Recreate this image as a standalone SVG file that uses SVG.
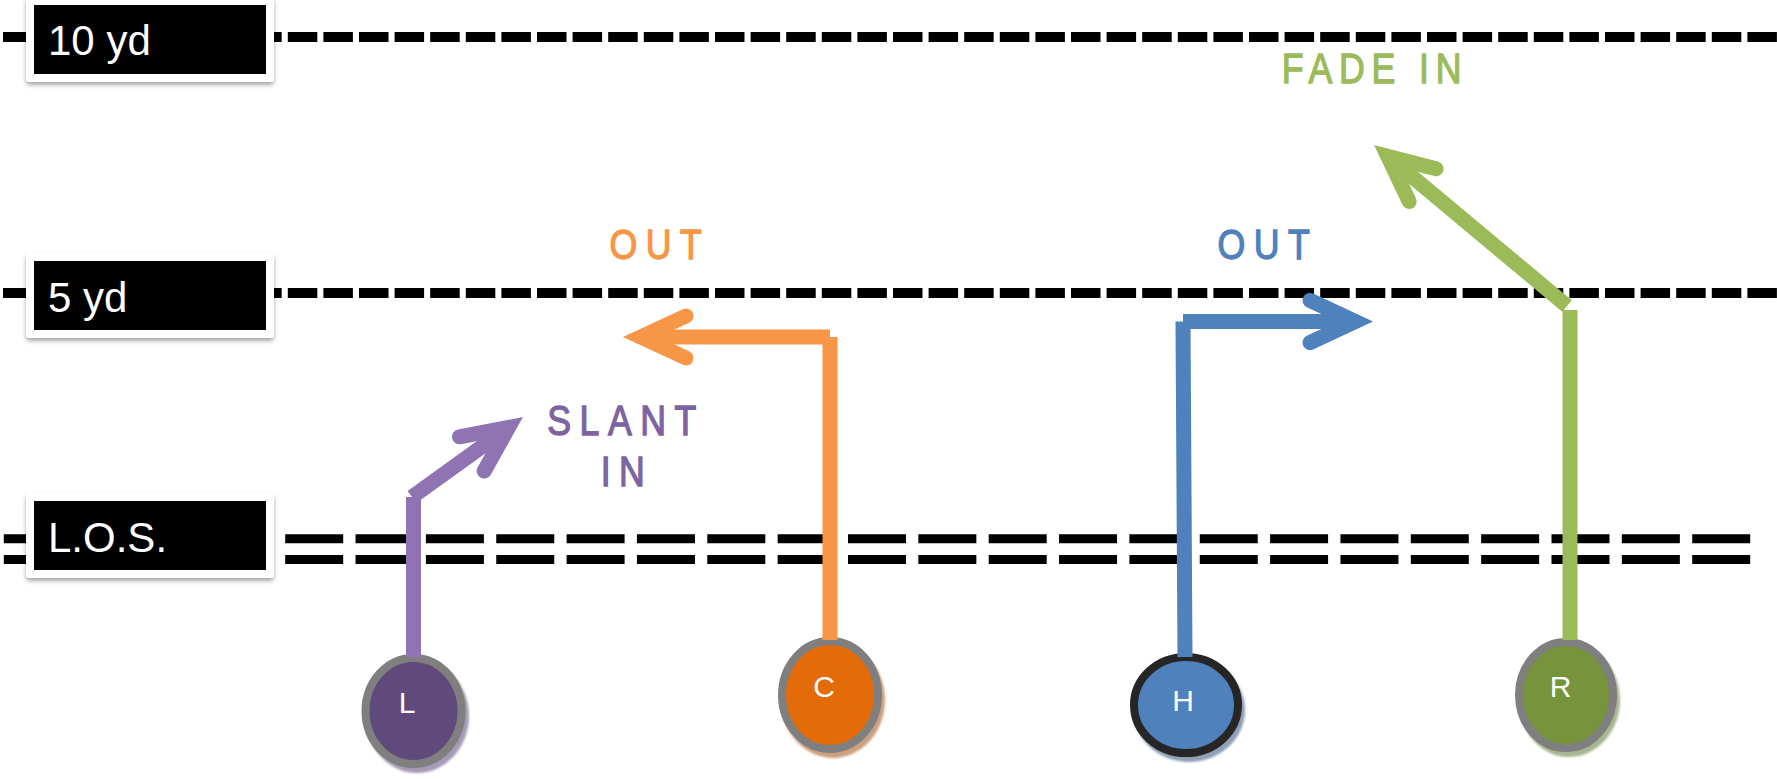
<svg xmlns="http://www.w3.org/2000/svg" width="1777" height="779" viewBox="0 0 1777 779">
<style>
  .yd { stroke:#000; stroke-width:10; stroke-dasharray:29.5 6.1; fill:none; }
  .los { stroke:#000; stroke-width:9; stroke-dasharray:58 12.35; fill:none; }
  .boxw { fill:#fff; filter:url(#boxshadow); }
  .boxb { fill:#000; }
  .boxt { font-family:"Liberation Sans", Arial, sans-serif; font-size:42px; fill:#fff; }
  .lbl { font-family:"Liberation Sans", Arial, sans-serif; font-size:42px; text-anchor:middle; letter-spacing:10px; stroke-width:1.3px; }
  .route { fill:none; stroke-width:15; stroke-linecap:butt; }
  .head { fill:none; stroke-width:15; stroke-linecap:round; stroke-linejoin:miter; stroke-miterlimit:4; }
  .ring { stroke:#7F7F7F; stroke-width:8; }
  .nshadow { filter:url(#soft); }
  .ntext { font-family:"Liberation Sans", Arial, sans-serif; font-size:30px; fill:#fff; text-anchor:middle; }
</style>
<defs>
  <filter id="boxshadow" x="-10%" y="-20%" width="120%" height="150%">
    <feDropShadow dx="0" dy="3" stdDeviation="2" flood-color="#000" flood-opacity="0.35"/>
  </filter>
  <filter id="soft" x="-20%" y="-20%" width="140%" height="140%">
    <feGaussianBlur stdDeviation="1"/>
  </filter>
</defs>
<rect width="1777" height="779" fill="#fff"/>

<g id="yard-lines">
  <line class="yd" x1="3" y1="37" x2="1777" y2="37"/>
  <line class="yd" x1="3" y1="293" x2="1777" y2="293"/>
  <line class="los" x1="3.8" y1="538.8" x2="1751" y2="538.8"/>
  <line class="los" x1="3.8" y1="559.5" x2="1751" y2="559.5"/>
</g>

<g id="label-10yd">
  <rect class="boxw" x="26" y="-4" width="248" height="86" rx="4"/>
  <rect class="boxb" x="34" y="5" width="232" height="69"/>
  <text class="boxt" x="48" y="55">10 yd</text>
</g>
<g id="label-5yd">
  <rect class="boxw" x="26" y="253" width="248" height="85" rx="4"/>
  <rect class="boxb" x="34" y="261" width="232" height="69"/>
  <text class="boxt" x="48" y="312">5 yd</text>
</g>
<g id="label-los">
  <rect class="boxw" x="26" y="493" width="248" height="85" rx="4"/>
  <rect class="boxb" x="34" y="501" width="232" height="69"/>
  <text class="boxt" x="48" y="552">L.O.S.</text>
</g>

<g id="node-L">
  <ellipse class="nshadow" cx="417" cy="716" rx="52" ry="57" fill="#A59BB5"/>
  <ellipse class="ring" cx="413.5" cy="711" rx="48" ry="53" fill="#604A7B"/>
  <text class="ntext" x="407" y="713">L</text>
</g>
<g id="node-C">
  <ellipse class="nshadow" cx="833" cy="700" rx="52" ry="58" fill="#CDA07D"/>
  <ellipse class="ring" cx="830" cy="695" rx="48" ry="54" fill="#E36C09"/>
  <text class="ntext" x="824" y="697">C</text>
</g>
<g id="node-H">
  <ellipse class="nshadow" cx="1189" cy="710" rx="56" ry="52" fill="#8E9FB6"/>
  <ellipse cx="1186" cy="705" rx="52" ry="48" fill="#4F81BD" stroke="#262626" stroke-width="8"/>
  <text class="ntext" x="1183" y="711">H</text>
</g>
<g id="node-R">
  <ellipse class="nshadow" cx="1569" cy="700" rx="51" ry="57" fill="#A8B690"/>
  <ellipse class="ring" cx="1566" cy="695" rx="47" ry="53" fill="#77933C"/>
  <text class="ntext" x="1560.5" y="697">R</text>
</g>

<g id="connectors">
  <g id="route-L" stroke="#8F73B3">
    <line class="route" x1="413.5" y1="657" x2="413.5" y2="497"/>
    <line class="route" x1="412" y1="497" x2="508.6" y2="427.4"/>
    <polyline class="head" points="459.5,436.8 508.6,427.4 484.2,471"/>
  </g>
  <g id="route-C" stroke="#F79646">
    <line class="route" x1="830" y1="640" x2="830" y2="337"/>
    <line class="route" x1="830" y1="337" x2="641" y2="337"/>
    <polyline class="head" points="686,316 640.7,337 686,358"/>
  </g>
  <g id="route-H" stroke="#4F81BD">
    <line class="route" x1="1185" y1="657" x2="1183" y2="321.5"/>
    <line class="route" x1="1183" y1="321.5" x2="1355" y2="321.5"/>
    <polyline class="head" points="1310,300.4 1355.3,321.5 1310,342.6"/>
  </g>
  <g id="route-R" stroke="#9BBB59">
    <line class="route" x1="1570" y1="640" x2="1570" y2="310"/>
    <line class="route" x1="1567" y1="306" x2="1387.7" y2="156.3"/>
    <polyline class="head" points="1436.1,168.8 1387.7,156.3 1409.2,201.4"/>
  </g>
</g>

<g id="route-labels">
  <text class="lbl" fill="#F79646" stroke="#F79646" transform="translate(660,259) scale(0.85,1)">OUT</text>
  <text class="lbl" fill="#4F81BD" stroke="#4F81BD" transform="translate(1268,259) scale(0.85,1)">OUT</text>
  <text class="lbl" fill="#7E63A1" stroke="#7E63A1" transform="translate(626,435) scale(0.85,1)">SLANT</text>
  <text class="lbl" fill="#7E63A1" stroke="#7E63A1" transform="translate(627,486) scale(0.85,1)">IN</text>
  <text class="lbl" fill="#9BBB59" stroke="#9BBB59" style="letter-spacing:8px" transform="translate(1375,83) scale(0.85,1)">FADE IN</text>
</g>
</svg>
